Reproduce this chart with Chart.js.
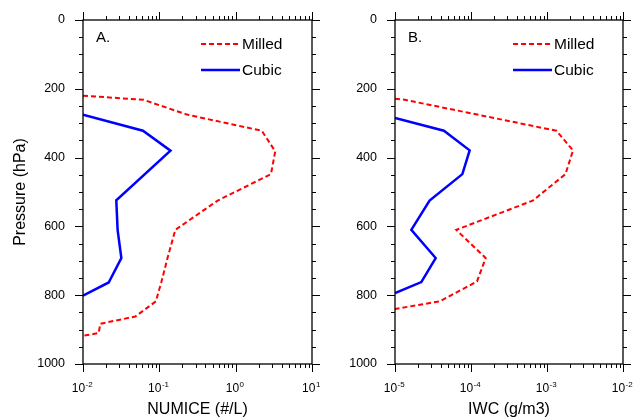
<!DOCTYPE html>
<html>
<head>
<meta charset="utf-8">
<script src="https://cdn.jsdelivr.net/npm/chart.js@4.4.0/dist/chart.umd.min.js"></script>
<style>
    html, body { margin: 0; padding: 0; background: #fff; }
    #wrap { position: relative; width: 636px; height: 418px; }
    #wrap canvas { position: absolute; left: 0; top: 0; }
</style>
</head>
<body>
<div id="wrap">
    <canvas id="panelA" width="636" height="418"></canvas>
    <canvas id="panelB" width="636" height="418"></canvas>
</div>
<script>
// ============================================
// DATA
// ============================================

// Panel A: NUMICE (#/L)
const pressureMilledA = [220, 232, 275, 322, 382, 448, 525, 610, 692, 763, 818, 862, 883, 910, 918];
const numiceMilled    = [0.01, 0.062, 0.23, 2.2, 3.3, 2.9, 0.58, 0.162, 0.128, 0.106, 0.09, 0.0485, 0.0169, 0.016, 0.01];
const pressureCubicA  = [275, 322, 380, 524, 610, 692, 763, 801];
const numiceCubic     = [0.01, 0.061, 0.14, 0.0273, 0.0284, 0.0318, 0.0217, 0.01];

// Panel B: IWC (g/m3)
const pressureMilledB = [229, 232, 322, 379, 448, 525, 610, 692, 760, 818, 840];
const iwcMilled       = [1e-5, 1.35e-5, 1.33e-3, 2.2e-3, 1.75e-3, 6.5e-4, 6.4e-5, 1.56e-4, 1.2e-4, 3.87e-5, 1e-5];
const pressureCubicB  = [285, 322, 379, 448, 525, 610, 692, 762, 794];
const iwcCubic        = [1e-5, 4.4e-5, 9.6e-5, 7.7e-5, 2.85e-5, 1.64e-5, 3.43e-5, 2.22e-5, 1e-5];

// Axis ticks
const pressureTicks = [0, 200, 400, 600, 800, 1000];
const decadesA = [-2, -1, 0, 1];
const decadesB = [-5, -4, -3, -2];

const seriesNames = ['Milled', 'Cubic'];

const FONT = "'Liberation Sans', Arial, Helvetica, sans-serif";

// ============================================
// NCL-STYLE FRAME, TICKS, LABELS, LEGEND
// ============================================

const nclPlugin = {
    id: 'ncl',
    afterDraw(chart, args, opts) {
        const ctx = chart.ctx;
        const area = chart.chartArea;
        const xs = chart.scales.x;
        const ys = chart.scales.y;
        const major = 8, minor = 4;

        ctx.save();
        ctx.strokeStyle = '#000';
        ctx.lineWidth = 1.3;
        ctx.strokeRect(area.left, area.top, area.right - area.left, area.bottom - area.top);

        ctx.lineWidth = 1;
        ctx.beginPath();
        // x ticks, bottom and top
        opts.decades.forEach((e, i) => {
            for (let m = 1; m <= 9; m++) {
                if (i === opts.decades.length - 1 && m > 1) break;
                const px = Math.round(xs.getPixelForValue(m * Math.pow(10, e))) + 0.5;
                const len = m === 1 ? major : minor;
                ctx.moveTo(px, area.bottom); ctx.lineTo(px, area.bottom + len);
                ctx.moveTo(px, area.top); ctx.lineTo(px, area.top - len);
            }
        });
        // y ticks, left and right
        for (let p = 0; p <= 1000; p += 50) {
            const py = Math.round(ys.getPixelForValue(p)) + 0.5;
            const len = p % 200 === 0 ? major : minor;
            ctx.moveTo(area.left, py); ctx.lineTo(area.left - len, py);
            ctx.moveTo(area.right, py); ctx.lineTo(area.right + len, py);
        }
        ctx.stroke();

        // x tick labels: 10 with superscript exponent
        ctx.fillStyle = '#000';
        ctx.textBaseline = 'alphabetic';
        ctx.textAlign = 'left';
        opts.decades.forEach(e => {
            const px = xs.getPixelForValue(Math.pow(10, e));
            ctx.font = '12px ' + FONT;
            const wBase = ctx.measureText('10').width;
            ctx.font = '8px ' + FONT;
            const expText = String(e);
            const wExp = ctx.measureText(expText).width;
            const x0 = px - (wBase + wExp) / 2 - 1;
            const base = area.bottom + 28;
            ctx.font = '12px ' + FONT;
            ctx.fillText('10', x0, base);
            ctx.font = '8px ' + FONT;
            ctx.fillText(expText, x0 + wBase + 0.5, base - 5);
        });

        // panel label
        ctx.font = '15px ' + FONT;
        ctx.textBaseline = 'middle';
        ctx.fillText(opts.label, area.left + 13, area.top + 18);

        // legend
        ctx.font = '15.5px ' + FONT;
        chart.data.datasets.forEach((ds, i) => {
            const y = area.top + 24 + i * 26;
            ctx.save();
            ctx.strokeStyle = ds.borderColor;
            ctx.lineWidth = ds.borderWidth;
            ctx.setLineDash(ds.borderDash || []);
            ctx.beginPath();
            ctx.moveTo(area.left + 118, y);
            ctx.lineTo(area.left + 157, y);
            ctx.stroke();
            ctx.restore();
            ctx.fillText(ds.label, area.left + 159, y + 1);
        });
        ctx.restore();
    }
};

// ============================================
// CHART BUILDER
// ============================================

function toPoints(pressure, values) {
    return pressure.map((p, i) => ({ x: values[i], y: p }));
}

function makePanel(canvasId, cfg) {
    const ctx = document.getElementById(canvasId).getContext('2d');
    return new Chart(ctx, {
        type: 'line',
        data: {
            datasets: [{
                label: seriesNames[0],
                data: toPoints(cfg.milledP, cfg.milled),
                borderColor: '#ff0000',
                borderWidth: 2,
                borderDash: [5, 3],
                pointRadius: 0,
                tension: 0,
                fill: false
            }, {
                label: seriesNames[1],
                data: toPoints(cfg.cubicP, cfg.cubic),
                borderColor: '#0000ff',
                borderWidth: 2.5,
                pointRadius: 0,
                tension: 0,
                fill: false
            }]
        },
        options: {
            responsive: false,
            animation: false,
            events: [],
            layout: { padding: { top: 20, right: cfg.padRight, left: cfg.padLeft, bottom: 0 } },
            plugins: {
                legend: { display: false },
                tooltip: { enabled: false },
                ncl: { label: cfg.label, decades: cfg.decades }
            },
            scales: {
                x: {
                    type: 'logarithmic',
                    position: 'bottom',
                    min: Math.pow(10, cfg.decades[0]),
                    max: Math.pow(10, cfg.decades[cfg.decades.length - 1]),
                    grid: { display: false, drawTicks: false },
                    border: { display: false },
                    ticks: { display: false },
                    title: {
                        display: true,
                        text: cfg.xTitle,
                        color: '#000',
                        font: { family: FONT, size: 16, lineHeight: 1 },
                        padding: 0
                    },
                    afterFit: (s) => { s.height = 54; }
                },
                y: {
                    type: 'linear',
                    reverse: true,
                    min: 0,
                    max: 1000,
                    grid: { display: false, drawTicks: false },
                    border: { display: false },
                    afterBuildTicks: (s) => { s.ticks = pressureTicks.map(v => ({ value: v })); },
                    ticks: {
                        color: '#000',
                        padding: 18,
                        font: { family: FONT, size: 12.5 },
                        callback: (v) => String(v)
                    },
                    title: {
                        display: !!cfg.yTitle,
                        text: cfg.yTitle || '',
                        color: '#000',
                        font: { family: FONT, size: 16, lineHeight: 1 },
                        padding: { top: 12.5, bottom: 0 }
                    },
                    afterFit: (s) => {
                        s.width = cfg.yWidth;
                        s.paddingTop = 0;
                        s.paddingBottom = 0;
                    }
                }
            }
        },
        plugins: [nclPlugin]
    });
}

makePanel('panelA', {
    label: 'A.',
    decades: decadesA,
    milledP: pressureMilledA, milled: numiceMilled,
    cubicP: pressureCubicA, cubic: numiceCubic,
    xTitle: 'NUMICE (#/L)',
    yTitle: 'Pressure (hPa)',
    yWidth: 83,
    padLeft: 0,
    padRight: 324
});

makePanel('panelB', {
    label: 'B.',
    decades: decadesB,
    milledP: pressureMilledB, milled: iwcMilled,
    cubicP: pressureCubicB, cubic: iwcCubic,
    xTitle: 'IWC (g/m3)',
    yTitle: null,
    yWidth: 77,
    padLeft: 318,
    padRight: 13
});
</script>
</body>
</html>
